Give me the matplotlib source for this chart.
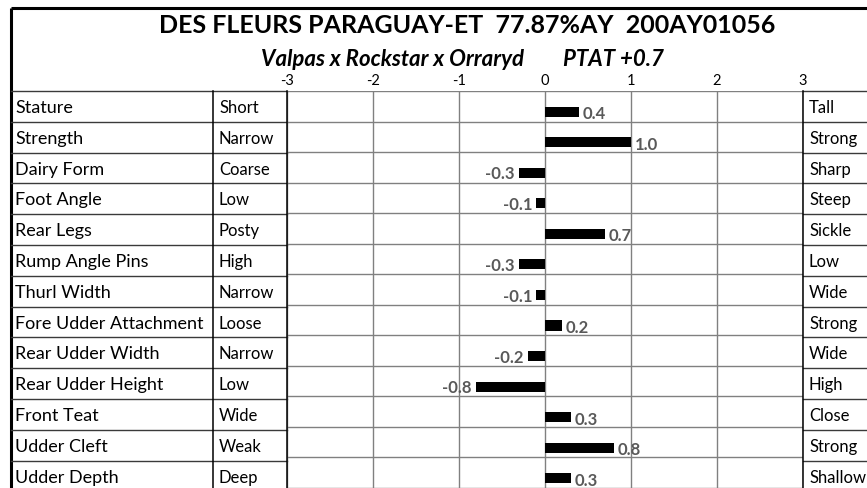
import matplotlib.pyplot as plt
import numpy as np

plt.rcParams['font.family'] = ['Lato', 'DejaVu Sans']

title = "DES FLEURS PARAGUAY-ET  77.87%AY  200AY01056"
subtitle = "Valpas x Rockstar x Orraryd        PTAT +0.7"
traits = ["Stature", "Strength", "Dairy Form", "Foot Angle", "Rear Legs",
          "Rump Angle Pins", "Thurl Width", "Fore Udder Attachment",
          "Rear Udder Width", "Rear Udder Height", "Front Teat",
          "Udder Cleft", "Udder Depth"]
low_labels = ["Short", "Narrow", "Coarse", "Low", "Posty", "High", "Narrow",
              "Loose", "Narrow", "Low", "Wide", "Weak", "Deep"]
high_labels = ["Tall", "Strong", "Sharp", "Steep", "Sickle", "Low", "Wide",
               "Strong", "Wide", "High", "Close", "Strong", "Shallow"]
values = [0.4, 1.0, -0.3, -0.1, 0.7, -0.3, -0.1, 0.2, -0.2, -0.8, 0.3, 0.8, 0.3]
ticks = [-3, -2, -1, 0, 1, 2, 3]

W, H = 867, 489
TOP = 92          # pixel row where the table starts
ROW = 30.8        # row height in pixels
X_NAME, X_LOW, X_PLOT0, X_PLOT1 = 11, 213, 287, 803

fig = plt.figure(figsize=(W / 100, H / 100), dpi=100)

# background axes in pixel coordinates for the table part
bg = fig.add_axes([0, 0, 1, 1], zorder=0)
bg.set_xlim(0, W)
bg.set_ylim(H, 0)
bg.axis('off')

# outer frame
bg.plot([X_NAME, W], [9, 9], color='black', lw=2.2, solid_capstyle='butt')
bg.plot([X_NAME, X_NAME], [9, H], color='black', lw=2.2, solid_capstyle='butt')

n = len(traits)
for i in range(n + 1):
    yy = TOP + i * ROW
    bg.plot([X_NAME, X_PLOT0], [yy, yy], color='#3a3a3a', lw=1)
    bg.plot([X_PLOT1, W], [yy, yy], color='#3a3a3a', lw=1)
bg.plot([X_LOW, X_LOW], [TOP, H], color='black', lw=1.1)

for i in range(n):
    yy = TOP + (i + 0.52) * ROW
    bg.text(15, yy, traits[i], fontsize=13, va='center', ha='left')
    bg.text(X_LOW + 6, yy, low_labels[i], fontsize=12, va='center', ha='left')
    bg.text(X_PLOT1 + 6, yy, high_labels[i], fontsize=12, va='center', ha='left')

bg.text(467, 33, title, fontsize=18, fontweight='bold', ha='center', va='baseline')
bg.text(462, 66, subtitle, fontsize=16, fontweight='bold', style='italic',
        ha='center', va='baseline')

# bar chart axes
n_vis = (H - TOP) / ROW
ax = fig.add_axes([X_PLOT0 / W, 0, (X_PLOT1 - X_PLOT0) / W, 1 - TOP / H], zorder=1)
ax.set_facecolor('none')
ax.set_xlim(-3, 3)
ax.set_ylim(n_vis, 0)

ypos = np.arange(n) + 0.68
ax.barh(ypos, values, height=0.33, color='black', zorder=3)
for y, v in zip(ypos, values):
    if v >= 0:
        ax.text(v + 0.04, y + 0.05, f"{v:.1f}", ha='left', va='center',
                fontsize=12, fontweight='bold', color='#595959', zorder=4)
    else:
        ax.text(v - 0.05, y + 0.02, f"{v:.1f}", ha='right', va='center',
                fontsize=12, fontweight='bold', color='#595959', zorder=4)

ax.set_xticks(ticks)
ax.set_xticklabels([str(t) for t in ticks], fontsize=10.5)
ax.xaxis.tick_top()
ax.tick_params(axis='x', length=0, pad=3)
ax.set_yticks(np.arange(n + 1))
ax.tick_params(axis='y', length=0, labelleft=False)
ax.grid(True, color='#808080', lw=1, zorder=0)
ax.set_axisbelow(True)
for s in ['top', 'bottom']:
    ax.spines[s].set_visible(False)
for s in ['left', 'right']:
    ax.spines[s].set_color('black')
    ax.spines[s].set_linewidth(1.1)

fig.savefig('out.png', dpi=100)
